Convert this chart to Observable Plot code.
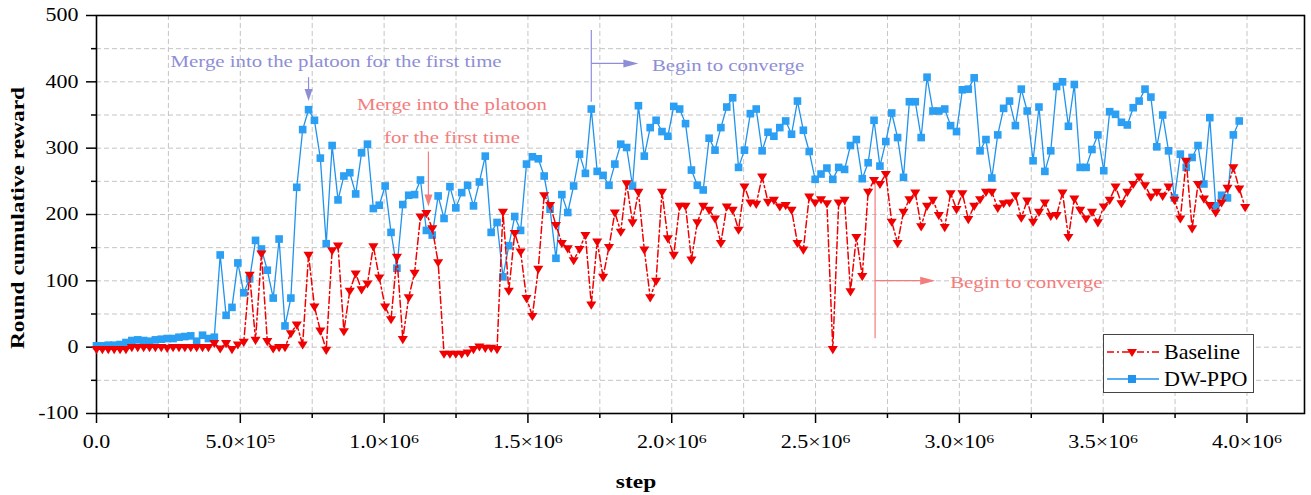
<!DOCTYPE html>
<html><head><meta charset="utf-8">
<script src="https://cdn.jsdelivr.net/npm/d3@7"></script>
<script src="https://cdn.jsdelivr.net/npm/@observablehq/plot@0.6"></script>
<style>
body{margin:0;background:#fff;}
#chart{position:relative;width:1311px;height:495px;overflow:hidden;}
#legend{position:absolute;left:1103px;top:334px;width:149px;height:57px;border:1.3px solid #444;background:#fff;}
</style></head><body><div id="chart"></div>
<script>
// ---------- data ----------
const logInterval = 20480; // environment steps between logged episodes
const seriesNames = ["Baseline", "DW-PPO"];
const dwppo = [2,2,3,3,4,7,10,11,10,9,11,12,13,13,15,16,17,9,18,13,
15,139,48,60,127,82,103,161,148,116,74,163,32,74,241,328,358,342,285,156,
304,222,258,263,231,293,306,209,214,243,173,119,215,229,230,252,176,169,228,194,
242,210,233,244,213,249,288,173,188,106,153,197,176,276,287,284,258,208,134,230,
203,243,291,262,359,265,259,244,276,306,301,243,364,288,331,342,325,318,363,359,
337,267,244,237,315,297,331,362,376,271,297,352,359,296,324,318,331,341,321,371,
327,295,253,261,270,253,271,268,304,313,254,278,342,273,310,353,316,256,370,370,
316,407,356,356,359,334,325,388,389,406,296,313,255,320,360,371,334,389,356,281,
362,265,296,393,400,333,396,271,271,298,320,266,355,351,339,335,361,371,389,377,
302,350,296,225,291,271,286,304,246,346,213,229,225,320,341];
const baseline = [-3,-3,-3,-3,-3,-3,0,0,0,0,0,0,-1,0,0,0,0,0,0,0,
6,-2,6,-3,4,8,109,11,141,9,-2,0,0,21,34,4,139,61,25,-4,
146,153,24,85,111,87,96,152,105,61,42,136,12,75,112,197,202,179,128,-10,
-10,-10,-10,-8,-3,1,-1,-1,-3,204,85,172,144,74,47,118,229,214,184,157,
149,131,148,169,64,159,106,151,203,174,247,188,234,147,75,100,234,164,139,213,
213,132,188,213,207,194,157,212,207,177,242,218,216,257,219,222,212,214,207,157,
147,227,218,223,217,-3,218,222,84,166,107,234,252,246,261,189,157,204,223,233,
182,213,222,199,181,232,208,232,193,213,223,234,234,210,217,218,229,195,221,189,
204,218,198,199,233,166,224,207,194,204,188,212,222,242,217,234,246,257,244,227,
234,228,242,222,194,281,179,246,224,214,203,218,240,271,239,211];
const xMajorTicks = [0, 5e5, 1e6, 1.5e6, 2e6, 2.5e6, 3e6, 3.5e6, 4e6];
const xMinorTicks = [2.5e5, 7.5e5, 1.25e6, 1.75e6, 2.25e6, 2.75e6, 3.25e6, 3.75e6];
const yMajorTicks = [-100, 0, 100, 200, 300, 400, 500];
const yMinorTicks = [-50, 50, 150, 250, 350, 450];

const purple = "#8e8ed6", salmon = "#f47c7c";
const annoTextsCentered = [
  {label: "Merge into the platoon for the first time", step: 833000, value: 431, color: purple},
  {label: "Merge into the platoon", step: 1236000, value: 366, color: salmon},
  {label: "for the first time", step: 1236000, value: 316, color: salmon}
];
const annoTextsLeft = [
  {label: "Begin to converge", step: 1931000, value: 424.5, color: purple},
  {label: "Begin to converge", step: 2968000, value: 97, color: salmon}
];
const annoLinks = [
  {x1: 737280, y1: 407, x2: 737280, y2: 380, color: purple},
  {x1: 1720320, y1: 478, x2: 1720320, y2: 370, color: purple},
  {x1: 1720320, y1: 427.7, x2: 1870000, y2: 427.7, color: purple},
  {x1: 1154000, y1: 295, x2: 1154000, y2: 222, color: salmon},
  {x1: 2707000, y1: 254.5, x2: 2707000, y2: 13.5, color: salmon},
  {x1: 2707000, y1: 100.3, x2: 2900000, y2: 100.3, color: salmon}
];
const annoHeadsDown = [
  {step: 737280, value: 371, color: purple},
  {step: 1154000, value: 212, color: salmon}
];
const annoHeadsRight = [
  {step: 1884000, value: 427.7, color: purple},
  {step: 2916000, value: 100.3, color: salmon}
];

// ---------- build ----------
const rowsB = baseline.map((v, i) => ({step: i * logInterval, value: v}));
const rowsD = dwppo.map((v, i) => ({step: i * logInterval, value: v}));

const triDown = {draw(ctx, size) { const s = Math.sqrt(size); ctx.moveTo(-0.62*s, -0.38*s); ctx.lineTo(0.62*s, -0.38*s); ctx.lineTo(0, 0.62*s); ctx.closePath(); }};
const headDown = {draw(ctx) { ctx.moveTo(0, 0); ctx.lineTo(-4, -12); ctx.lineTo(4, -12); ctx.closePath(); }};
const headRight = {draw(ctx) { ctx.moveTo(0, 0); ctx.lineTo(-15, -4); ctx.lineTo(-15, 4); ctx.closePath(); }};

const fmt = v => {
  if (v === 0) return "0.0";
  const e = Math.floor(Math.log10(v));
  return (v / 10 ** e).toFixed(1) + "×10^" + e;
};

const chart = Plot.plot({
  width: 1311, height: 495,
  marginLeft: 96, marginRight: 7, marginTop: 15, marginBottom: 82,
  style: {fontFamily: "'Liberation Serif','Times New Roman',serif", fontSize: "18px", color: "#000", background: "#fff"},
  x: {domain: [0, 4.2e6], label: null},
  y: {domain: [-100, 500], label: null},
  marks: [
    Plot.gridX(xMajorTicks.concat(xMinorTicks), {stroke: "#c4c4c4", strokeOpacity: 1, strokeDasharray: "5,3", strokeWidth: 1}),
    Plot.gridY(yMajorTicks.concat(yMinorTicks), {stroke: "#c4c4c4", strokeOpacity: 1, strokeDasharray: "5,3", strokeWidth: 1}),
    Plot.axisX(xMajorTicks, {tickSize: 10, tickPadding: 12, tickFormat: fmt, fontSize: 18, strokeWidth: 1.5, label: null}),
    Plot.axisX(xMinorTicks, {tickSize: 5, tickFormat: () => "", strokeWidth: 1.5, label: null}),
    Plot.axisY(yMajorTicks, {tickSize: 10, tickPadding: 8, tickFormat: d => String(d), fontSize: 18, strokeWidth: 1.5, label: null}),
    Plot.axisY(yMinorTicks, {tickSize: 5, tickFormat: () => "", strokeWidth: 1.5, label: null}),
    Plot.frame({stroke: "#000", strokeWidth: 1.6}),
    // annotations
    Plot.link(annoLinks, {x1: "x1", y1: "y1", x2: "x2", y2: "y2", stroke: "color", strokeWidth: 1.2}),
    Plot.dot(annoHeadsDown, {x: "step", y: "value", fill: "color", symbol: headDown, r: 4}),
    Plot.dot(annoHeadsRight, {x: "step", y: "value", fill: "color", symbol: headRight, r: 4}),
    Plot.text(annoTextsCentered, {x: "step", y: "value", text: "label", fill: "color", textAnchor: "middle", fontSize: 17.5}),
    Plot.text(annoTextsLeft, {x: "step", y: "value", text: "label", fill: "color", textAnchor: "start", fontSize: 17.5}),
    // DW-PPO
    Plot.line(rowsD, {x: "step", y: "value", stroke: "#1f93ee", strokeWidth: 1.3}),
    Plot.dot(rowsD, {x: "step", y: "value", symbol: "square", r: 4.3, fill: "#2a9ff4", stroke: "none"}),
    // Baseline
    Plot.line(rowsB, {x: "step", y: "value", stroke: "#f00000", strokeWidth: 1.5, strokeDasharray: "7,3,2,3"}),
    Plot.dot(rowsB, {x: "step", y: "value", symbol: triDown, r: 4.6, fill: "#f00000", stroke: "none"})
  ]
});
const host = document.getElementById("chart");
host.appendChild(chart);

// superscript exponents on x tick labels
chart.querySelectorAll('g[aria-label="x-axis tick label"] text').forEach(t => {
  const s = t.textContent;
  const k = s.indexOf("^");
  if (k >= 0) {
    t.textContent = s.slice(0, k);
    const sp = document.createElementNS("http://www.w3.org/2000/svg", "tspan");
    sp.setAttribute("dy", "-0.42em");
    sp.setAttribute("font-size", "13");
    sp.textContent = s.slice(k + 1);
    t.appendChild(sp);
  }
});

// axis titles
const svg = d3.select(chart);
svg.append("text").attr("class", "title")
  .attr("transform", "translate(24,218) rotate(-90)")
  .attr("text-anchor", "middle").attr("font-weight", "bold").attr("font-size", 18)
  .attr("font-family", "'Liberation Serif',serif").attr("fill", "#000")
  .text("Round cumulative reward");
svg.append("text").attr("class", "title")
  .attr("x", 636).attr("y", 488)
  .attr("text-anchor", "middle").attr("font-weight", "bold").attr("font-size", 18)
  .attr("font-family", "'Liberation Serif',serif").attr("fill", "#000")
  .text("step");

// legend
const legend = d3.select(host).append("div").attr("id", "legend");
const lsvg = legend.append("svg").attr("width", 149).attr("height", 57);
const legendRows = [
  {name: seriesNames[0], y: 17, color: "#f00000", dash: "7,3,2,3", sym: triDown},
  {name: seriesNames[1], y: 44, color: "#1f93ee", dash: null, sym: d3.symbolSquare}
];
legendRows.forEach(r => {
  lsvg.append("line").attr("x1", 3).attr("x2", 55).attr("y1", r.y).attr("y2", r.y)
    .attr("stroke", r.color).attr("stroke-width", 1.5).attr("stroke-dasharray", r.dash);
  lsvg.append("path").attr("transform", `translate(28,${r.y})`)
    .attr("d", d3.symbol(r.sym, 4.5 * 4.5 * Math.PI)()).attr("fill", r.color);
  lsvg.append("text").attr("x", 60).attr("y", r.y + 7).attr("font-size", 21)
    .attr("font-family", "'Liberation Serif',serif").attr("fill", "#000").attr("class", "leg").text(r.name);
});

// stretch glyphs horizontally to match the reference typesetting
function stretch(root, sel, f) {
  root.querySelectorAll(sel).forEach(t => {
    const w = t.getComputedTextLength();
    if (w > 0) { t.setAttribute("textLength", w * f); t.setAttribute("lengthAdjust", "spacingAndGlyphs"); }
  });
}
stretch(chart, 'g[aria-label="x-axis tick label"] text, g[aria-label="y-axis tick label"] text', 1.22);
stretch(chart, 'g[aria-label="text"] text', 1.19);
stretch(chart, 'text.title', 1.3);
stretch(host, 'text.leg', 1.05);
</script></body></html>
